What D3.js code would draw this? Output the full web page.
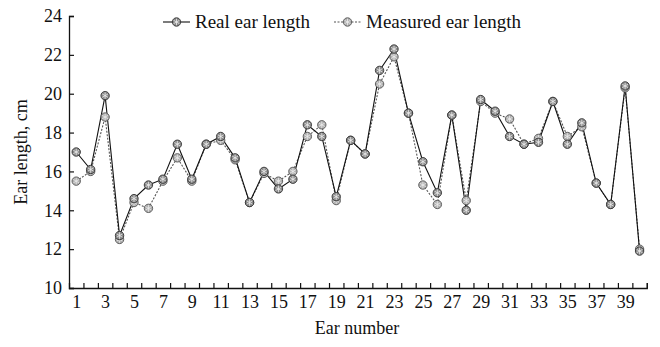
<!DOCTYPE html>
<html><head><meta charset="utf-8">
<script src="https://cdn.jsdelivr.net/npm/d3@7"></script>
<style>body{margin:0;background:#fff;} svg{display:block;}</style>
</head><body>
<svg id="chart" width="660" height="347"></svg>
<script>
const earNumbers = d3.range(1, 41);
const realLength = [17.0,16.1,19.9,12.7,14.6,15.3,15.6,17.4,15.6,17.4,
                    17.8,16.7,14.4,16.0,15.1,15.6,18.4,17.8,14.7,17.6,
                    16.9,21.2,22.3,19.0,16.5,14.9,18.9,14.0,19.7,19.1,
                    17.8,17.4,17.5,19.6,17.4,18.5,15.4,14.3,20.4,11.9];
const measuredLength = [15.5,16.0,18.8,12.5,14.4,14.1,15.5,16.7,15.5,17.4,
                        17.6,16.6,14.4,15.9,15.5,16.0,17.8,18.4,14.5,17.6,
                        16.9,20.5,21.9,19.0,15.3,14.3,18.9,14.5,19.6,19.0,
                        18.7,17.4,17.7,19.6,17.8,18.3,15.4,14.3,20.3,12.0];
const yTicks = [10,12,14,16,18,20,22,24];
const xTickLabels = d3.range(1, 40, 2);
const seriesNames = ["Real ear length", "Measured ear length"];

const svg = d3.select("#chart");
const font = "'Liberation Serif','Times New Roman',serif";
const mLeft = 69, mRight = 646.8, mTop = 16, mBottom = 288;
const x = d3.scaleLinear().domain([0.5, 40.5]).range([mLeft, mRight]);
const y = d3.scaleLinear().domain([10, 24]).range([mBottom, mTop]);

// axes
svg.append("g").attr("transform", `translate(${mLeft},0)`)
  .call(d3.axisLeft(y).tickValues(yTicks).tickSize(-5).tickPadding(7).tickFormat(d3.format("d")));
svg.append("g").attr("transform", `translate(0,${mBottom})`)
  .call(d3.axisBottom(x).tickValues(d3.range(1.5, 41, 1)).tickSize(-5).tickFormat(""));
svg.append("g").attr("transform", `translate(0,${mBottom})`)
  .call(d3.axisBottom(x).tickValues(xTickLabels).tickSize(0).tickPadding(7).tickFormat(d3.format("d")))
  .call(g => g.select(".domain").remove());
svg.selectAll(".domain").attr("stroke", "#111").attr("stroke-width", 1.3);
svg.selectAll(".tick line").attr("stroke", "#111").attr("stroke-width", 1.2);
svg.selectAll(".tick text").attr("font-family", font).attr("font-size", 18).attr("fill", "#111");

// titles
svg.append("text").attr("x", 357).attr("y", 334).attr("text-anchor", "middle")
  .attr("font-family", font).attr("font-size", 18).attr("fill", "#111").text("Ear number");
svg.append("text").attr("transform", `translate(27,152) rotate(-90)`).attr("text-anchor", "middle")
  .attr("font-family", font).attr("font-size", 18).attr("fill", "#111").text("Ear length, cm");

const line = d3.line().x((d, i) => x(earNumbers[i])).y(d => y(d));
const styles = [
  {data: realLength, stroke: "#111", dash: null, fill: "#8a8a8a", mstroke: "#333"},
  {data: measuredLength, stroke: "#555", dash: "2,1.5", fill: "#b0b0b0", mstroke: "#555"}
];
const star = d3.symbol().type(d3.symbolAsterisk).size(30);
function marker(g, cx, cy, s) {
  g.append("circle").attr("cx", cx).attr("cy", cy).attr("r", 4.2)
    .attr("fill", s.fill).attr("stroke", s.mstroke).attr("stroke-width", 0.9);
  g.append("path").attr("d", star()).attr("transform", `translate(${cx},${cy})`)
    .attr("fill", "none").attr("stroke", "#eee").attr("stroke-width", 0.8);
}
[1, 0].forEach(k => {
  const s = styles[k];
  svg.append("path").datum(s.data).attr("d", line).attr("fill", "none")
    .attr("stroke", s.stroke).attr("stroke-width", 1.1).attr("stroke-dasharray", s.dash);
});
[1, 0].forEach(k => {
  const s = styles[k];
  const g = svg.append("g");
  s.data.forEach((v, i) => marker(g, x(earNumbers[i]), y(v), s));
});

// legend
const legendX = [163, 334];
seriesNames.forEach((name, k) => {
  const s = styles[k];
  const g = svg.append("g");
  const lx = legendX[k], ly = 22;
  g.append("line").attr("x1", lx).attr("x2", lx + 27).attr("y1", ly).attr("y2", ly)
    .attr("stroke", s.stroke).attr("stroke-width", 1.1).attr("stroke-dasharray", s.dash);
  marker(g, lx + 13.5, ly, s);
  g.append("text").attr("x", lx + 32).attr("y", ly + 6).attr("font-family", font)
    .attr("font-size", 19).attr("fill", "#111").text(name);
});
</script>
</body></html>
